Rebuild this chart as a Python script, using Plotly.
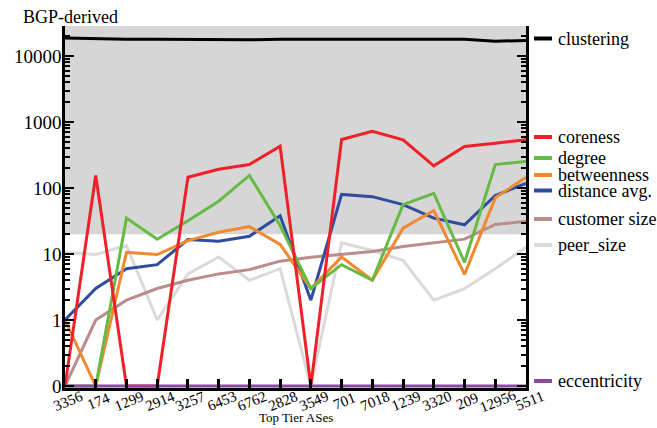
import plotly.graph_objects as go
import math

# ---------------- data ----------------
ases = ["3356", "174", "1299", "2914", "3257", "6453", "6762", "2828", "3549",
        "701", "7018", "1239", "3320", "209", "12956", "5511"]

clustering = [18800, 18300, 18000, 18000, 17900, 17800, 17600, 18000, 18000,
              18000, 18000, 17900, 17700, 18000, 16800, 17200]
coreness = [0, 155, 0, 0, 146, 193, 227, 430, 0, 543, 726, 537, 217, 425, 477, 537]
degree = [0, 0, 35, 16.7, 32, 63, 155, 27, 3.0, 6.9, 4.0, 56, 83, 7.5, 227, 252]
betweenness = [1, 0, 10.6, 9.8, 16, 21.4, 26, 14, 3.0, 9.0, 4.0, 24.6, 45.6, 4.9, 71, 146]
distance_avg = [1, 3.0, 6.0, 6.9, 16.6, 15.6, 18.6, 38, 2.0, 80, 74, 56, 35, 27.7, 77, 118]
customer_size = [0, 1.0, 2.0, 3.0, 4.0, 5.0, 5.8, 7.8, 8.9, 9.8, 10.9, 13, 14.8, 16.8, 28, 31.4]
peer_size = [10.6, 9.8, 13.5, 1.0, 5.0, 9.0, 4.0, 6.0, 0, 14.8, 11.3, 8.0, 2.0, 3.0, 6.0, 12.7]
eccentricity = [0] * 16

shade_from = 20
ytick_vals = [0.1, 1, 10, 100, 1000, 10000]
ytick_text = ["0", "1", "10", "100", "1000", "10000"]

# ---------------- styling ----------------
FONT = "Liberation Serif"
series = [
    ("peer_size", peer_size, "#dadada"),
    ("customer size", customer_size, "#bc8c8c"),
    ("distance avg.", distance_avg, "#2f4c9e"),
    ("betweenness", betweenness, "#ef8a2e"),
    ("degree", degree, "#66bb44"),
    ("coreness", coreness, "#ee2028"),
    ("clustering", clustering, "#000000"),
    ("eccentricity", eccentricity, "#8b4aa3"),
]

def zmap(vals):
    return [v if v > 0 else 0.1 for v in vals]

W, H = 657, 428
ml, mr, mt, mb = 65, 131, 26, 40
pw, ph = W - ml - mr, H - mt - mb

fig = go.Figure()
for name, vals, col in series:
    fig.add_trace(go.Scatter(x=ases, y=zmap(vals), mode="lines", name=name,
                             line=dict(color=col, width=3), showlegend=False,
                             cliponaxis=True))

ymin, ymax = -1.03, 4.455

# gray shaded region
fig.add_shape(type="rect", xref="paper", yref="y", x0=0, x1=1,
              y0=shade_from, y1=10 ** ymax, fillcolor="#d6d6d6",
              line=dict(width=0), layer="below")

minor_vals = []
for d in range(-1, 5):
    for m in range(2, 10):
        v = m * 10 ** d
        if math.log10(v) < ymax:
            minor_vals.append(v)

# right-side labels (pixel y centres)
label_y = {"clustering": 38.5, "coreness": 137, "degree": 158, "betweenness": 175,
           "distance avg.": 190.5, "customer size": 219, "peer_size": 245,
           "eccentricity": 381}

def px_to_paper_x(px):
    return (px - ml) / pw

def py_to_paper_y(py):
    return (H - mb - py) / ph

for name, vals, col in series:
    yy = py_to_paper_y(label_y[name])
    fig.add_shape(type="line", xref="paper", yref="paper",
                  x0=px_to_paper_x(534), x1=px_to_paper_x(552), y0=yy, y1=yy,
                  line=dict(color=col, width=4))
    fig.add_annotation(xref="paper", yref="paper", x=px_to_paper_x(556), y=yy,
                       xanchor="left", yanchor="middle", text=name, showarrow=False,
                       font=dict(family=FONT, size=18, color="black"))

# rotated category labels, centred under each tick
n = len(ases)
for i, a in enumerate(ases):
    fig.add_annotation(xref="paper", yref="paper", x=i / (n - 1), y=py_to_paper_y(401),
                       xanchor="center", yanchor="middle", xshift=3,
                       text=a, textangle=-22, showarrow=False,
                       font=dict(family=FONT, size=15, color="black"))

fig.add_annotation(xref="paper", yref="paper", x=px_to_paper_x(21),
                   y=py_to_paper_y(16.5), xanchor="left", yanchor="middle",
                   text="BGP-derived", showarrow=False,
                   font=dict(family=FONT, size=18, color="black"))
fig.add_annotation(xref="paper", yref="paper", x=0.5, y=py_to_paper_y(418),
                   xanchor="center", yanchor="middle", text="Top Tier ASes",
                   showarrow=False, font=dict(family=FONT, size=13, color="black"))

fig.update_layout(
    width=W, height=H,
    margin=dict(l=ml, r=mr, t=mt, b=mb, pad=0, autoexpand=False),
    paper_bgcolor="white", plot_bgcolor="white",
    font=dict(family=FONT, color="black"),
)
fig.update_xaxes(type="category", range=[0, len(ases) - 1], showgrid=False,
                 automargin=False, showticklabels=False,
                 showline=True, linecolor="black", linewidth=2.5, mirror=False,
                 ticks="inside", ticklen=9, tickwidth=2.5, tickcolor="black")
fig.update_yaxes(type="log", range=[ymin, ymax], showgrid=False, zeroline=False,
                 automargin=False,
                 showline=True, linecolor="black", linewidth=2.5, mirror="ticks",
                 ticks="inside", ticklen=9, tickwidth=2, tickcolor="black",
                 tickmode="array", tickvals=ytick_vals, ticktext=ytick_text,
                 ticklabelstandoff=-3,
                 tickfont=dict(family=FONT, size=19, color="black"),
                 minor=dict(ticks="inside", tickmode="array", tickvals=minor_vals,
                            ticklen=5, tickwidth=1.5, tickcolor="black",
                            showgrid=False))

fig.write_html("out.html")
